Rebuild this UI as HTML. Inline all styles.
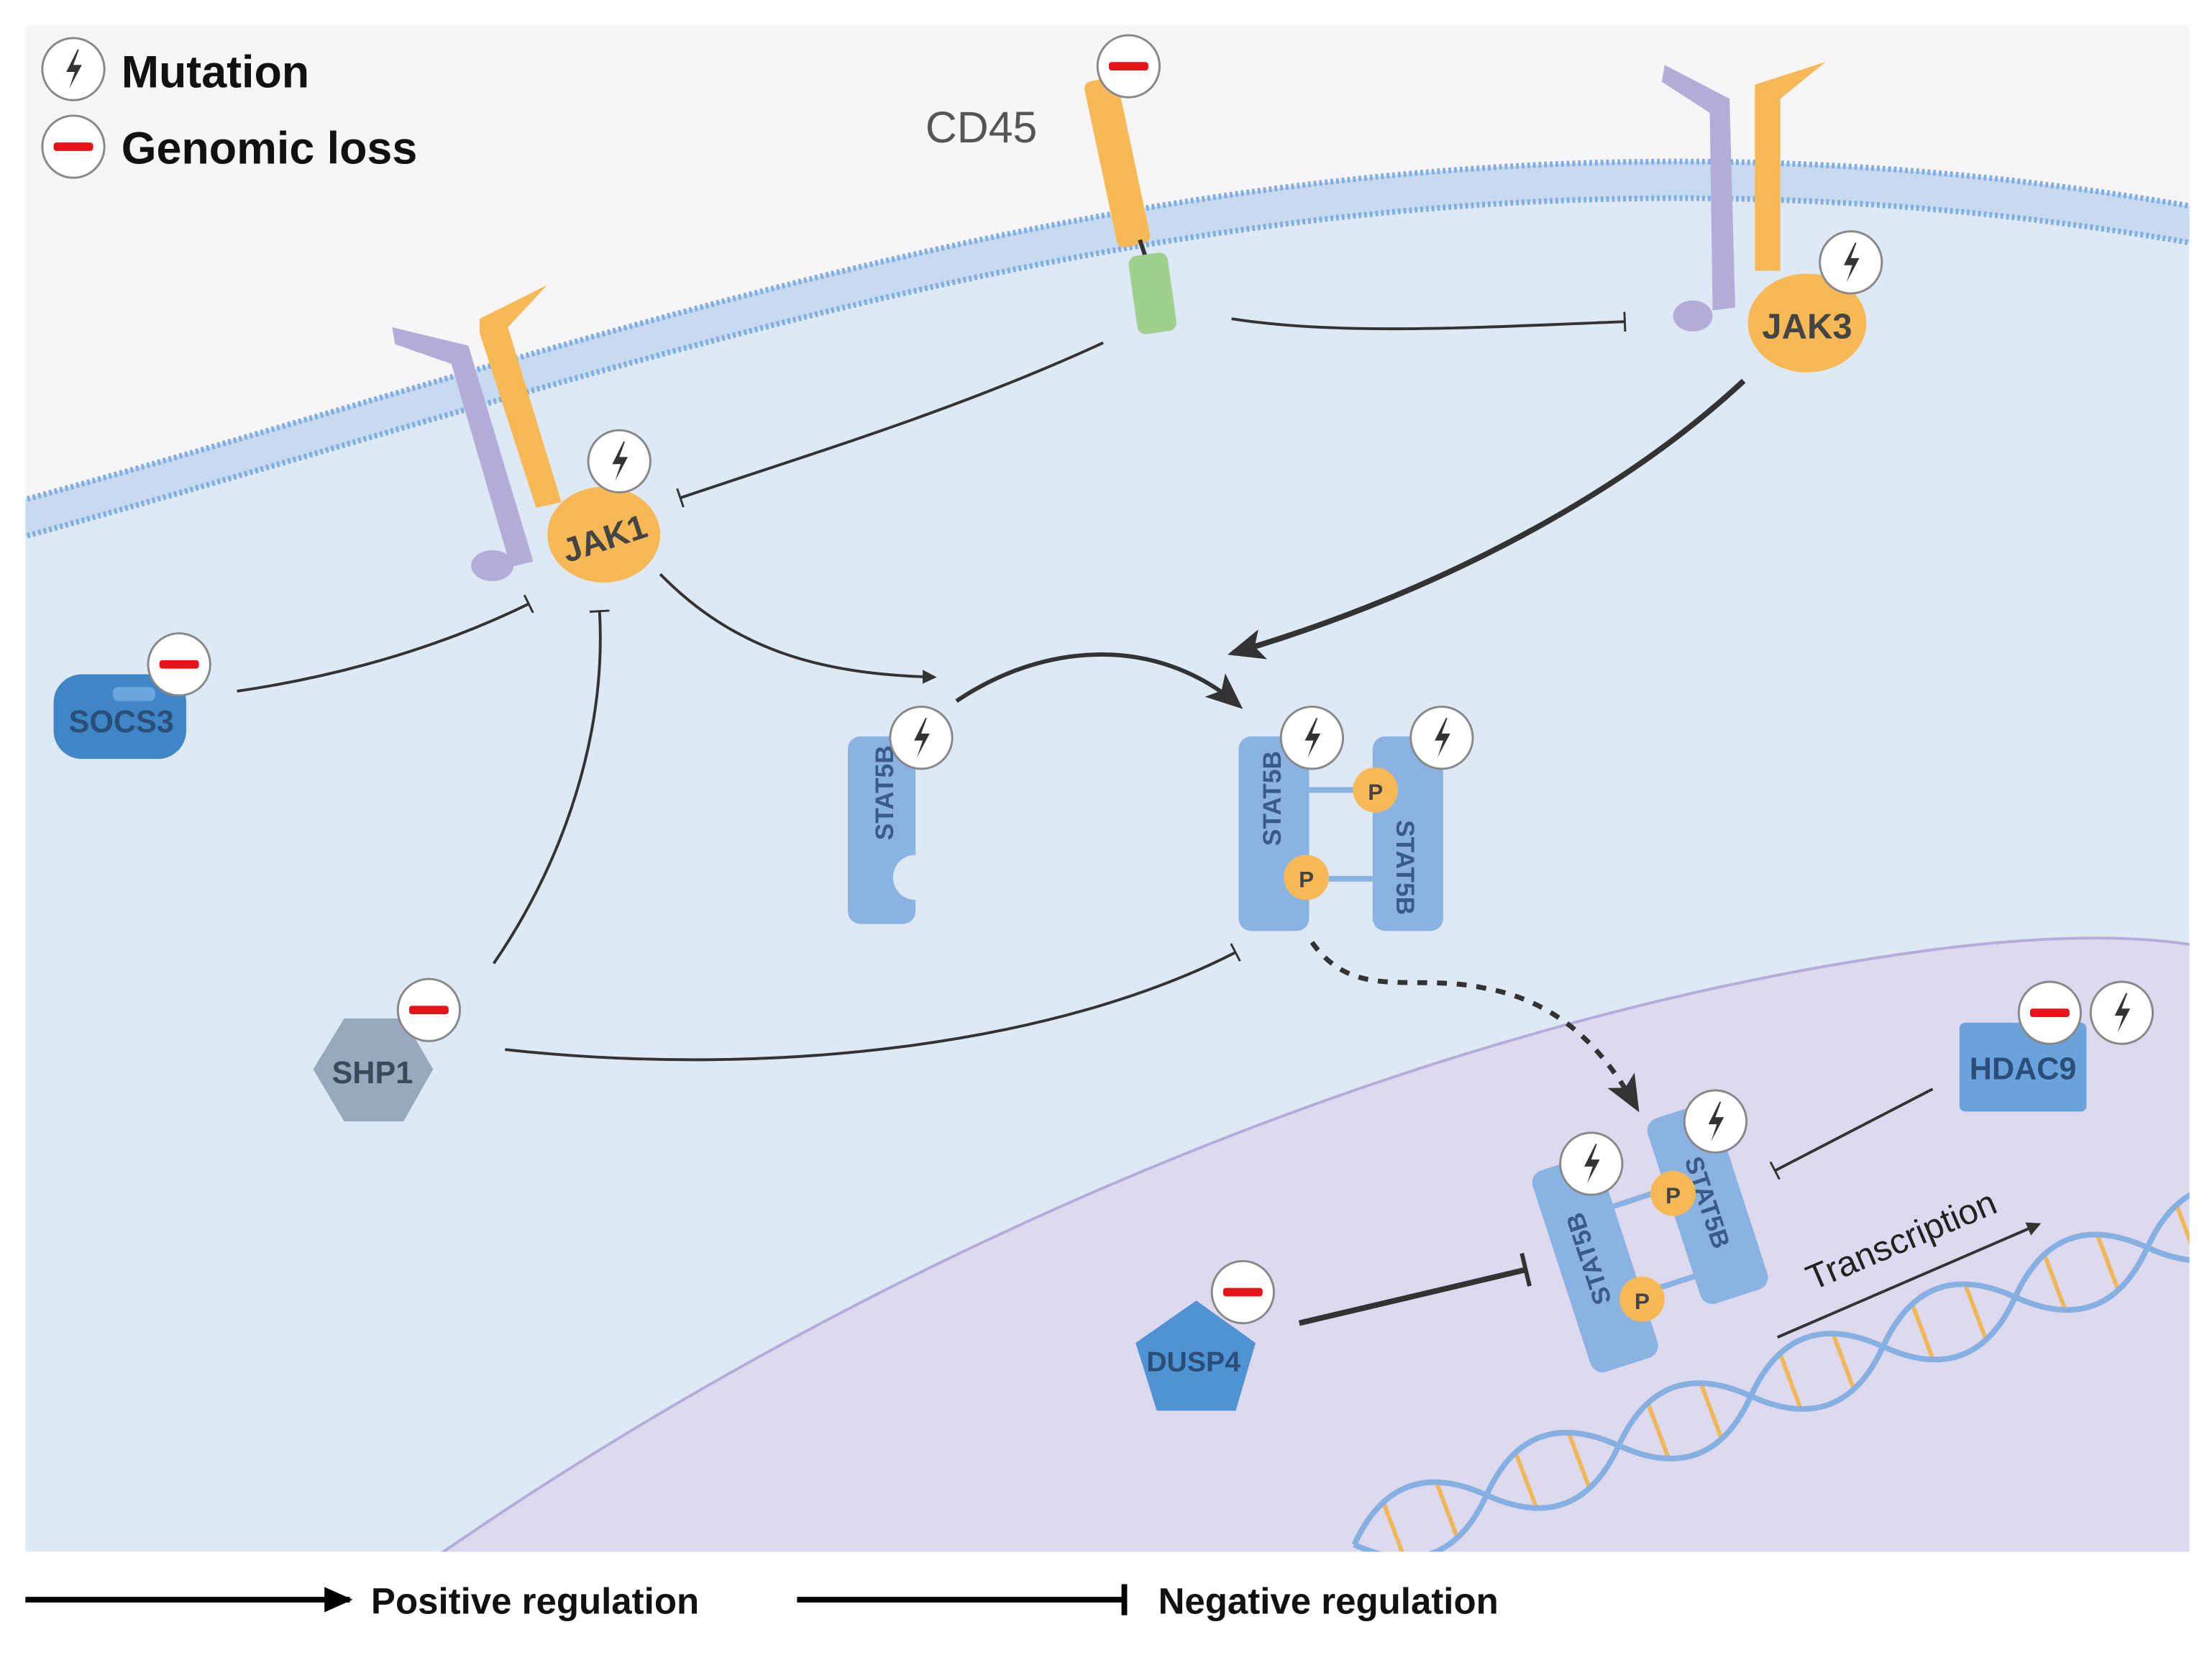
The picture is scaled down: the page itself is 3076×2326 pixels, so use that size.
<!DOCTYPE html>
<html><head><meta charset="utf-8"><style>
html,body{margin:0;padding:0;background:#fff}
svg{display:block}
text{font-family:"Liberation Sans",sans-serif}
</style></head><body>
<svg width="3076" height="2326" viewBox="0 0 1568 1186" preserveAspectRatio="none" xmlns="http://www.w3.org/2000/svg">
<defs>
<g id="mut"><circle r="22" fill="#fff" stroke="#888" stroke-width="1.5"/><path d="M3,-14 L-5,2 L1,2 L-3,14 L6,-3 L0,-3 L4,-14 Z" fill="#333"/></g>
<g id="loss"><circle r="22" fill="#fff" stroke="#888" stroke-width="1.5"/><rect x="-14" y="-3" width="28" height="6" rx="2" fill="#e8141c"/></g>
<marker id="ah" markerWidth="10" markerHeight="10" refX="8" refY="5" orient="auto" markerUnits="userSpaceOnUse"><path d="M0,0 L10,5 L0,10 Z" fill="#333"/></marker>
<marker id="ahb" markerWidth="26" markerHeight="26" refX="22" refY="13" orient="auto" markerUnits="userSpaceOnUse"><path d="M0,2 L26,13 L0,24 L6,13 Z" fill="#333"/></marker>
<marker id="tb" markerWidth="4" markerHeight="14" refX="2" refY="7" orient="auto" markerUnits="userSpaceOnUse"><rect x="1" y="0" width="1.5" height="14" fill="#333"/></marker>
<marker id="tbb" markerWidth="6" markerHeight="24" refX="3" refY="12" orient="auto" markerUnits="userSpaceOnUse"><rect x="1" y="0" width="3" height="24" fill="#333"/></marker>
<marker id="leg" markerWidth="22" markerHeight="22" refX="18" refY="11" orient="auto" markerUnits="userSpaceOnUse"><path d="M0,2 L20,11 L0,20 Z" fill="#000"/></marker>
<clipPath id="panel"><rect x="18" y="18" width="1534" height="1082"/></clipPath>
</defs>
<g clip-path="url(#panel)">
<rect x="18" y="18" width="1534" height="1082" fill="#dde9f5"/>
<path d="M0,370 C 500,235 950,45 1580,162 L1580,0 L0,0 Z" fill="#f7f5f8"/>
<path d="M300,1110 C 600,900 1000,720 1380,672 C 1480,660 1540,665 1580,675 L1580,1110 Z" fill="#ddd9ee" stroke="#b5acd9" stroke-width="2"/>
<path d="M0,372 C 500,237 950,47 1580,164" fill="none" stroke="#c7daf0" stroke-width="26"/>
<path d="M0,359 C 500,224 950,34 1580,151" fill="none" stroke="#7faee0" stroke-width="4" stroke-dasharray="2 2"/>
<path d="M0,385 C 500,250 950,60 1580,177" fill="none" stroke="#7faee0" stroke-width="4" stroke-dasharray="2 2"/>
<!-- DNA -->
<g stroke="#f0b858" stroke-width="3">
<line x1="981" y1="1066" x2="995" y2="1103"/>
<line x1="1018.6" y1="1051.7" x2="1032.6" y2="1089.1"/>
<line x1="1074.8" y1="1030.7" x2="1088.8" y2="1068.1"/>
<line x1="1112.3" y1="1016.6" x2="1126.3" y2="1054"/>
<line x1="1168.5" y1="995.6" x2="1182.5" y2="1033"/>
<line x1="1206" y1="981.5" x2="1220" y2="1018.9"/>
<line x1="1262.2" y1="960.5" x2="1276.2" y2="997.9"/>
<line x1="1299.7" y1="946.4" x2="1313.7" y2="983.8"/>
<line x1="1355.9" y1="925.4" x2="1369.9" y2="962.8"/>
<line x1="1393.4" y1="911.3" x2="1407.4" y2="948.7"/>
<line x1="1449.6" y1="890.3" x2="1463.6" y2="927.7"/>
<line x1="1487.1" y1="876.2" x2="1501.1" y2="913.6"/>
<line x1="1543.3" y1="855.2" x2="1557.3" y2="892.6"/>
</g>
<g fill="none" stroke="#86b0e2" stroke-width="4">
<path d="M960,1095 Q1024.5,1124.4 1053.7,1059.9 T1147.4,1024.8 T1241.1,989.7 T1334.8,954.6 T1428.5,919.5 T1522.2,884.4 T1615.9,849.3"/>
<path d="M960,1095 Q989.3,1030.6 1053.7,1059.9 T1147.4,1024.8 T1241.1,989.7 T1334.8,954.6 T1428.5,919.5 T1522.2,884.4 T1615.9,849.3"/>
</g>
</g>
<!-- legend -->
<use href="#mut" x="52" y="49"/>
<text x="86" y="62" font-size="32" font-weight="bold" fill="#111">Mutation</text>
<use href="#loss" x="52" y="104"/>
<text x="86" y="116" font-size="32" font-weight="bold" fill="#111">Genomic loss</text>
<text x="656" y="101" font-size="31" fill="#555">CD45</text>
<!-- CD45 -->
<rect x="780" y="55" width="24" height="120" rx="5" fill="#f7b955" transform="rotate(-12 792 115)"/>
<line x1="808" y1="170" x2="812" y2="182" stroke="#333" stroke-width="3"/>
<rect x="803" y="180" width="28" height="56" rx="6" fill="#9fd08e" transform="rotate(-8 817 208)"/>
<use href="#loss" x="800" y="47"/>
<!-- JAK3 receptor -->
<path d="M1180,46 L1226,70 L1230,218 L1214,220 L1212,80 L1178,58 Z" fill="#b4acd9"/>
<path d="M1244,60 L1294,44 L1262,70 L1262,192 L1244,192 Z" fill="#f7b955"/>
<ellipse cx="1200" cy="224" rx="14" ry="11" fill="#b4acd9"/>
<ellipse cx="1281" cy="229" rx="42" ry="35" fill="#f7b955"/>
<text x="1281" y="240" font-size="25" font-weight="bold" fill="#444" text-anchor="middle">JAK3</text>
<use href="#mut" x="1312" y="186"/>
<!-- JAK1 receptor -->
<path d="M278,232 L332,245 L378,398 L362,402 L320,258 L280,244 Z" fill="#b4acd9"/>
<path d="M340,226 L388,202 L360,232 L398,356 L380,360 L340,236 Z" fill="#f7b955"/>
<ellipse cx="349" cy="401" rx="15" ry="11" fill="#b4acd9"/>
<ellipse cx="428" cy="379" rx="40" ry="34" fill="#f7b955"/>
<text x="428" y="390" font-size="24" font-weight="bold" fill="#444" text-anchor="middle" transform="rotate(-18 428 380)">JAK1</text>
<use href="#mut" x="439" y="327"/>
<!-- SOCS3 -->
<rect x="38" y="478" width="94" height="60" rx="20" fill="#3e86c6"/>
<rect x="80" y="487" width="30" height="10" rx="4" fill="#6ba6dc"/>
<text x="86" y="519" font-size="22" font-weight="bold" fill="#2a4e78" text-anchor="middle">SOCS3</text>
<use href="#loss" x="127" y="471"/>
<!-- SHP1 -->
<polygon points="244,722 286,722 307,758 286,795 244,795 222,758" fill="#97a9bb"/>
<text x="264" y="768" font-size="22" font-weight="bold" fill="#3b4a5a" text-anchor="middle">SHP1</text>
<use href="#loss" x="304" y="716"/>
<!-- free STAT5B -->
<rect x="601" y="522" width="48" height="133" rx="9" fill="#8ab2e2"/>
<circle cx="649" cy="622" r="16" fill="#dde9f5"/>
<text x="633" y="562" font-size="18" font-weight="bold" fill="#3a5a88" text-anchor="middle" transform="rotate(-90 633 562)">STAT5B</text>
<use href="#mut" x="653" y="523"/>
<!-- cytoplasm dimer -->
<rect x="878" y="522" width="50" height="138" rx="9" fill="#8ab2e2"/>
<rect x="973" y="522" width="50" height="138" rx="9" fill="#8ab2e2"/>
<line x1="928" y1="560" x2="973" y2="560" stroke="#8ab2e2" stroke-width="4"/>
<line x1="928" y1="623" x2="973" y2="623" stroke="#8ab2e2" stroke-width="4"/>
<circle cx="975" cy="560" r="16" fill="#f7b955"/><text x="975" y="567" font-size="16" font-weight="bold" fill="#444" text-anchor="middle">P</text>
<circle cx="926" cy="622" r="16" fill="#f7b955"/><text x="926" y="629" font-size="16" font-weight="bold" fill="#444" text-anchor="middle">P</text>
<text x="908" y="566" font-size="18" font-weight="bold" fill="#3a5a88" text-anchor="middle" transform="rotate(-90 908 566)">STAT5B</text>
<text x="990" y="615" font-size="18" font-weight="bold" fill="#3a5a88" text-anchor="middle" transform="rotate(90 990 615)">STAT5B</text>
<use href="#mut" x="930" y="523"/>
<use href="#mut" x="1022" y="523"/>
<!-- nucleus dimer -->
<g transform="rotate(-18 1165 885)">
<rect x="1104" y="810" width="50" height="150" rx="9" fill="#8ab2e2"/>
<rect x="1193" y="800" width="50" height="138" rx="9" fill="#8ab2e2"/>
<line x1="1154" y1="850" x2="1193" y2="850" stroke="#8ab2e2" stroke-width="4"/>
<line x1="1154" y1="915" x2="1193" y2="915" stroke="#8ab2e2" stroke-width="4"/>
<text x="1132" y="880" font-size="18" font-weight="bold" fill="#3a5a88" text-anchor="middle" transform="rotate(-90 1132 880)">STAT5B</text>
<text x="1212" y="868" font-size="18" font-weight="bold" fill="#3a5a88" text-anchor="middle" transform="rotate(90 1212 868)">STAT5B</text>
</g>
<circle cx="1186" cy="846" r="16" fill="#f7b955"/><text x="1186" y="853" font-size="16" font-weight="bold" fill="#444" text-anchor="middle">P</text>
<circle cx="1164" cy="921" r="16" fill="#f7b955"/><text x="1164" y="928" font-size="16" font-weight="bold" fill="#444" text-anchor="middle">P</text>
<use href="#mut" x="1128" y="825"/>
<use href="#mut" x="1216" y="795"/>
<!-- HDAC9 -->
<rect x="1389" y="725" width="90" height="63" rx="4" fill="#6aa3dc"/>
<text x="1434" y="765" font-size="22" font-weight="bold" fill="#2a4e78" text-anchor="middle">HDAC9</text>
<use href="#loss" x="1453" y="718"/>
<use href="#mut" x="1504" y="718"/>
<!-- DUSP4 -->
<polygon points="848,922 890,952 876,1000 820,1000 805,952" fill="#4f93d2"/>
<text x="846" y="972" font-size="20" font-weight="bold" fill="#2a4e78" text-anchor="middle">DUSP4</text>
<use href="#loss" x="881" y="916"/>
<!-- connectors -->
<g fill="none" stroke="#333">
<path d="M873,226 C 950,238 1050,232 1152,228" stroke-width="2" marker-end="url(#tb)"/>
<path d="M782,243 C 680,290 580,320 482,353" stroke-width="2" marker-end="url(#tb)"/>
<path d="M168,490 C 250,478 320,455 375,428" stroke-width="2" marker-end="url(#tb)"/>
<path d="M350,683 C 400,610 430,520 425,433" stroke-width="2" marker-end="url(#tb)"/>
<path d="M358,744 C 550,765 750,740 876,675" stroke-width="2" marker-end="url(#tb)"/>
<path d="M1370,772 L1258,830" stroke-width="2" marker-end="url(#tb)"/>
<path d="M468,407 C 520,460 580,478 662,480" stroke-width="2" marker-end="url(#ah)"/>
<path d="M678,497 C 740,455 820,450 878,500" stroke-width="3" marker-end="url(#ahb)"/>
<path d="M1236,270 C 1150,350 1020,420 874,463" stroke-width="4" marker-end="url(#ahb)"/>
<path d="M930,668 C 960,710 1000,690 1050,700 C 1110,710 1140,750 1160,785" stroke-width="3.5" stroke-dasharray="7 7" marker-end="url(#ahb)"/>
<path d="M921,938 L1082,900" stroke-width="4" marker-end="url(#tbb)"/>
<path d="M1260,948 L1445,868" stroke-width="2" marker-end="url(#ah)"/>
</g>
<text x="1285" y="915" font-size="25" fill="#222" transform="rotate(-23 1285 915)">Transcription</text>
<!-- bottom legend -->
<line x1="18" y1="1134" x2="248" y2="1134" stroke="#000" stroke-width="4" marker-end="url(#leg)"/>
<text x="263" y="1144" font-size="26" font-weight="bold" fill="#111">Positive regulation</text>
<line x1="565" y1="1134" x2="797" y2="1134" stroke="#000" stroke-width="4"/>
<line x1="797" y1="1123" x2="797" y2="1145" stroke="#000" stroke-width="4"/>
<text x="821" y="1144" font-size="26" font-weight="bold" fill="#111">Negative regulation</text>
</svg>
</body></html>
